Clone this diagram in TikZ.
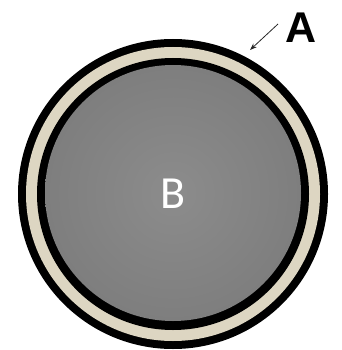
\documentclass[tikz,border=0pt]{standalone}
\usepackage{fontspec}
\setsansfont{Carlito}
\newfontfamily\labelfont{Liberation Sans}
\usepackage{tikz}
\usetikzlibrary{arrows.meta}
\definecolor{Core}{HTML}{8C8C8C}
\definecolor{CoreEdge}{HTML}{707070}
\definecolor{Sheath}{HTML}{DDD6C2}
\pgfdeclareradialshading{coreglow}{\pgfpoint{0bp}{0bp}}{color(0bp)=(Core); color(50bp)=(CoreEdge); color(100bp)=(CoreEdge)}

\begin{document}
\begin{tikzpicture}[x=1pt,y=-1pt]
  \useasboundingbox (0,0) rectangle (341,350);
  \clip (0,0) rectangle (341,350);
  \fill[black] (173,194) circle (155pt);
  \fill[Sheath] (173,194) circle (147pt);
  \fill[black] (173,194) circle (136pt);
  \shade[shading=coreglow] (173,193) circle (128pt);
  \node[text=white, font=\sffamily\fontsize{46}{46}\selectfont] (B) at (173,194) {B};
  \node[font=\labelfont\bfseries\fontsize{43}{43}\selectfont] (A) at (301,28) {A};
  \coordinate (tail) at (278,24);
  \coordinate (tip) at (250,50);
  \draw[-{Stealth[length=7pt,width=5pt]}, line width=0.8pt, black!85] (tail) -- (tip);
\end{tikzpicture}
\end{document}
